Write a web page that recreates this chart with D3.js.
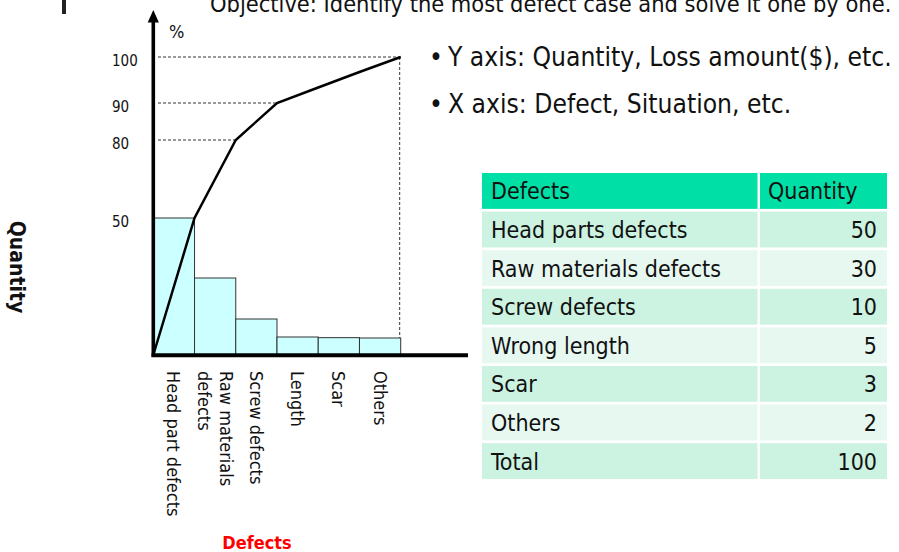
<!DOCTYPE html>
<html>
<head>
<meta charset="utf-8">
<script src="https://cdn.jsdelivr.net/npm/d3@7"></script>
<style>
  html, body { margin: 0; padding: 0; background: #fff; }
  svg { display: block; font-family: "DejaVu Sans Condensed", "DejaVu Sans", sans-serif; }
</style>
</head>
<body>
<svg id="chart" width="899" height="552"></svg>
<script>
// Defect categories and their counts (Pareto order)
const categories = ["Head part defects", "Raw materials\ndefects", "Screw defects", "Length", "Scar", "Others"];
const quantities = [50, 30, 10, 5, 3, 2];

// Cumulative-percent tick labels on the vertical axis, and the ones with guide lines
const percentTicks = [50, 80, 90, 100];
const guideTicks = [80, 90, 100];

// Summary table
const tableHeader = ["Defects", "Quantity"];
const tableDefects = ["Head parts defects", "Raw materials defects", "Screw defects", "Wrong length", "Scar", "Others", "Total"];
const tableQuantity = [50, 30, 10, 5, 3, 2, 100];

// Text blocks
const objectiveText = "Objective: Identify the most defect case and solve it one by one.";
const bulletLines = ["Y axis: Quantity, Loss amount($), etc.", "X axis: Defect, Situation, etc."];

const svg = d3.select("#chart");

// ---- scales -------------------------------------------------------------
const total = d3.sum(quantities);
const cumulative = Array.from(d3.cumsum(quantities), v => v / total * 100);

const x = d3.scaleBand().domain(categories).range([153.3, 400.7]).paddingInner(0).paddingOuter(0);

// Hand-drawn, non-uniform vertical scale shared by bars and cumulative line
const y = d3.scaleLinear()
  .domain([0, 2, 5, 10, 30, 50, 80, 90, 95, 98, 100])
  .range([355, 338, 337, 319, 278, 218, 140, 103, 87.5, 72, 57]);

// ---- top decoration & objective ----------------------------------------
svg.append("rect").attr("x", 62).attr("y", 0).attr("width", 4).attr("height", 14).attr("fill", "#222");

svg.append("text")
  .attr("x", 210).attr("y", 12)
  .attr("font-size", 23.4).attr("fill", "#111")
  .text(objectiveText);

// ---- bullets ---------------------------------------------------------------
const bullets = svg.append("g").attr("font-size", 26.2).attr("fill", "#111");
bulletLines.forEach((t, i) => {
  const by = 66 + i * 47;
  bullets.append("text").attr("x", 429).attr("y", by).text("\u2022");
  bullets.append("text").attr("x", 448).attr("y", by).text(t);
});

// ---- guides (dashed) -------------------------------------------------------
const rightEdge = (i) => x(categories[i]) + x.bandwidth();
const guides = svg.append("g")
  .attr("stroke", "#333").attr("stroke-width", 1).attr("stroke-dasharray", "3,2").attr("fill", "none");

guideTicks.forEach(t => {
  const idx = cumulative.findIndex(c => Math.abs(c - t) < 1e-9);
  guides.append("line")
    .attr("x1", 158).attr("x2", rightEdge(idx))
    .attr("y1", y(t)).attr("y2", y(t));
});
const last = categories.length - 1;
guides.append("line")
  .attr("x1", rightEdge(last) - 1).attr("x2", rightEdge(last) - 1)
  .attr("y1", y(100)).attr("y2", y(quantities[last]));

// ---- bars -------------------------------------------------------------------
svg.append("g").selectAll("rect")
  .data(quantities)
  .join("rect")
  .attr("x", (d, i) => x(categories[i]))
  .attr("y", d => y(d))
  .attr("width", x.bandwidth())
  .attr("height", d => y(0) - y(d))
  .attr("fill", "#CCFFFF")
  .attr("stroke", "#333")
  .attr("stroke-width", 1);

// ---- cumulative line ---------------------------------------------------------
const pts = [[x(categories[0]), y(0)]].concat(cumulative.map((c, i) => [rightEdge(i), y(c)]));
svg.append("path")
  .attr("d", d3.line()(pts))
  .attr("fill", "none")
  .attr("stroke", "#000")
  .attr("stroke-width", 2.5)
  .attr("stroke-linejoin", "miter");

// ---- axes ---------------------------------------------------------------------
const axisX = x.range()[0];
svg.append("line")
  .attr("x1", axisX).attr("x2", axisX).attr("y1", y(0) + 2).attr("y2", 21)
  .attr("stroke", "#000").attr("stroke-width", 3.6);
svg.append("path")
  .attr("d", `M${axisX},10 L${axisX - 5.6},22.5 L${axisX + 5.6},22.5 Z`)
  .attr("fill", "#000");
svg.append("line")
  .attr("x1", axisX - 1.8).attr("x2", 468).attr("y1", y(0) + 0.3).attr("y2", y(0) + 0.3)
  .attr("stroke", "#000").attr("stroke-width", 4);

svg.append("text")
  .attr("x", 169).attr("y", 38)
  .attr("font-size", 18).attr("fill", "#111")
  .text("%");

svg.append("g").selectAll("text")
  .data(percentTicks)
  .join("text")
  .attr("x", 112)
  .attr("y", d => y(d) + 3.5)
  .attr("dominant-baseline", "central")
  .attr("font-size", 15)
  .attr("fill", "#111")
  .text(d => d);

// ---- category labels (rotated) -------------------------------------------------
const labelGroups = svg.append("g").attr("font-size", 18).attr("fill", "#111")
  .selectAll("g")
  .data(categories)
  .join("g")
  .attr("transform", d => `translate(${x(d) + x.bandwidth() / 2},371) rotate(90)`);
labelGroups.each(function (d) {
  const lines = d.split("\n");
  d3.select(this).selectAll("text")
    .data(lines)
    .join("text")
    .attr("x", 0)
    .attr("y", (l, i) => (i - (lines.length - 1) / 2) * 22)
    .attr("dominant-baseline", "central")
    .text(l => l);
});

// ---- axis titles ----------------------------------------------------------------
svg.append("text")
  .attr("transform", "translate(17,267) rotate(90)")
  .attr("text-anchor", "middle")
  .attr("dominant-baseline", "central")
  .attr("font-size", 21).attr("font-weight", "bold").attr("fill", "#111")
  .text("Quantity");

svg.append("text")
  .attr("x", 257).attr("y", 549)
  .attr("text-anchor", "middle")
  .attr("font-size", 18).attr("font-weight", "bold").attr("fill", "#FF0000")
  .text("Defects");

// ---- table -------------------------------------------------------------------------
const rows = d3.range(tableDefects.length + 1);
const ry = d3.scaleBand().domain(rows).range([173, 479]).paddingInner(0.07).paddingOuter(0);
const cols = [{ x0: 482, x1: 757.5 }, { x0: 760, x1: 887 }];
const rowFill = r => r === 0 ? "#00E0A6" : (r % 2 === 1 ? "#CCF3E1" : "#E7F8F1");

const table = svg.append("g").attr("font-size", 23).attr("fill", "#111");
rows.forEach(r => {
  cols.forEach(c => {
    table.append("rect")
      .attr("x", c.x0).attr("y", ry(r))
      .attr("width", c.x1 - c.x0).attr("height", ry.bandwidth())
      .attr("fill", rowFill(r));
  });
  const ty = ry(r) + ry.bandwidth() / 2 + 8.5;
  const left = r === 0 ? tableHeader[0] : tableDefects[r - 1];
  table.append("text").attr("x", 491).attr("y", ty).text(left);
  if (r === 0) {
    table.append("text").attr("x", 768).attr("y", ty).text(tableHeader[1]);
  } else {
    table.append("text").attr("x", 877).attr("y", ty).attr("text-anchor", "end").text(tableQuantity[r - 1]);
  }
});
</script>
</body>
</html>
